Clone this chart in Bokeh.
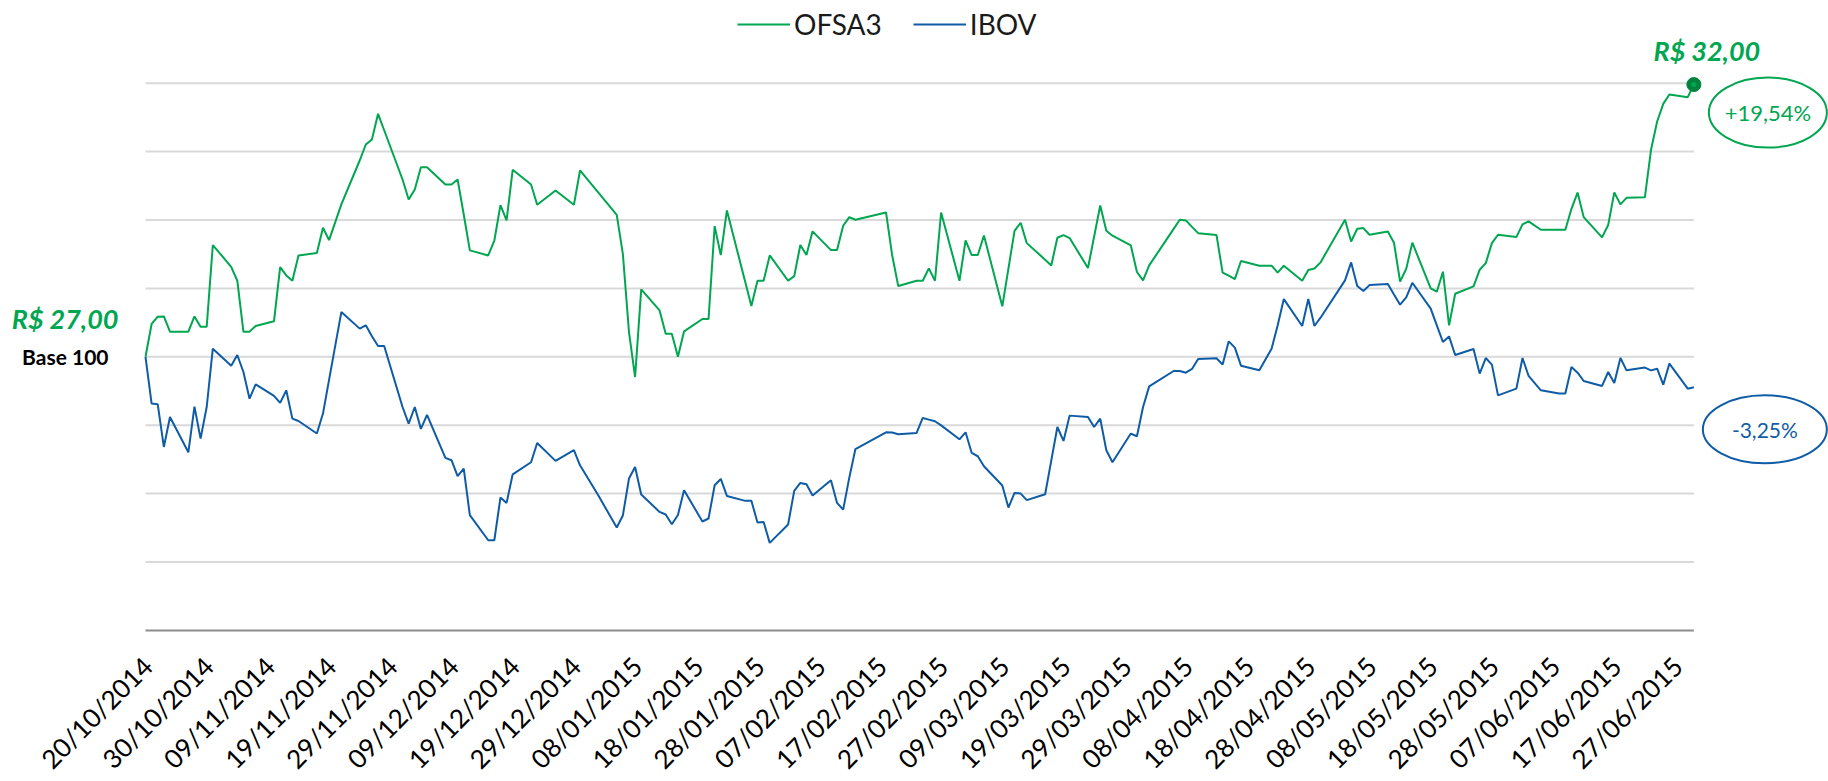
from datetime import datetime, timedelta
from math import pi

from bokeh.plotting import figure
from bokeh.models import Range1d, FixedTicker, Legend, LegendItem
from bokeh.core.properties import value
from bokeh.embed import file_html
from bokeh.resources import INLINE

# ---------------- data ----------------
dates_str = [
    "20/10/2014", "21/10/2014", "22/10/2014", "23/10/2014", "24/10/2014",
    "27/10/2014", "28/10/2014", "29/10/2014", "30/10/2014", "31/10/2014",
    "03/11/2014", "04/11/2014", "05/11/2014", "06/11/2014", "07/11/2014",
    "10/11/2014", "11/11/2014", "12/11/2014", "13/11/2014", "14/11/2014",
    "17/11/2014", "18/11/2014", "19/11/2014", "21/11/2014",
    "24/11/2014", "25/11/2014", "26/11/2014", "27/11/2014", "28/11/2014",
    "01/12/2014", "02/12/2014", "03/12/2014", "04/12/2014", "05/12/2014",
    "08/12/2014", "09/12/2014", "10/12/2014", "11/12/2014", "12/12/2014",
    "15/12/2014", "16/12/2014", "17/12/2014", "18/12/2014", "19/12/2014",
    "22/12/2014", "23/12/2014", "26/12/2014",
    "29/12/2014", "30/12/2014", "02/01/2015",
    "05/01/2015", "06/01/2015", "07/01/2015", "08/01/2015", "09/01/2015",
    "12/01/2015", "13/01/2015", "14/01/2015", "15/01/2015", "16/01/2015",
    "19/01/2015", "20/01/2015", "21/01/2015", "22/01/2015", "23/01/2015",
    "26/01/2015", "27/01/2015", "28/01/2015", "29/01/2015", "30/01/2015",
    "02/02/2015", "03/02/2015", "04/02/2015", "05/02/2015", "06/02/2015",
    "09/02/2015", "10/02/2015", "11/02/2015", "12/02/2015", "13/02/2015",
    "18/02/2015", "19/02/2015", "20/02/2015",
    "23/02/2015", "24/02/2015", "25/02/2015", "26/02/2015", "27/02/2015",
    "02/03/2015", "03/03/2015", "04/03/2015", "05/03/2015", "06/03/2015",
    "09/03/2015", "10/03/2015", "11/03/2015", "12/03/2015", "13/03/2015",
    "16/03/2015", "17/03/2015", "18/03/2015", "19/03/2015", "20/03/2015",
    "23/03/2015", "24/03/2015", "25/03/2015", "26/03/2015", "27/03/2015",
    "30/03/2015", "31/03/2015", "01/04/2015", "02/04/2015",
    "06/04/2015", "07/04/2015", "08/04/2015", "09/04/2015", "10/04/2015",
    "13/04/2015", "14/04/2015", "15/04/2015", "16/04/2015", "17/04/2015",
    "20/04/2015", "22/04/2015", "23/04/2015", "24/04/2015",
    "27/04/2015", "28/04/2015", "29/04/2015", "30/04/2015",
    "04/05/2015", "05/05/2015", "06/05/2015", "07/05/2015", "08/05/2015",
    "11/05/2015", "12/05/2015", "13/05/2015", "14/05/2015", "15/05/2015",
    "18/05/2015", "19/05/2015", "20/05/2015", "21/05/2015", "22/05/2015",
    "25/05/2015", "26/05/2015", "27/05/2015", "28/05/2015", "29/05/2015",
    "01/06/2015", "02/06/2015", "03/06/2015", "05/06/2015",
    "08/06/2015", "09/06/2015", "10/06/2015", "11/06/2015", "12/06/2015",
    "15/06/2015", "16/06/2015", "17/06/2015", "18/06/2015", "19/06/2015",
    "22/06/2015", "23/06/2015", "24/06/2015", "25/06/2015", "26/06/2015",
    "29/06/2015", "30/06/2015",
]

ofsa3 = [
    100.0, 102.4, 102.93, 102.95, 101.84, 101.84, 102.95, 102.2, 102.2, 108.17,
    106.58, 105.56, 101.84, 101.84, 102.25, 102.6, 106.56, 105.95, 105.56, 107.41,
    107.58, 109.43, 108.53, 111.14, 114.35, 115.52, 115.89, 117.76, 116.56,
    112.96, 111.5, 112.23, 113.86, 113.86, 112.6, 112.6, 112.96, 110.4, 107.78,
    107.41, 108.5, 111.09, 109.97, 113.67, 112.6, 111.11, 112.16, 111.11, 113.62,
    112.0, 110.38, 107.53, 101.81, 98.52, 104.93, 103.39, 101.69, 101.69, 100.0, 101.86,
    102.76, 102.76, 109.55, 107.44, 110.7, 105.46, 103.71, 105.56, 105.56, 107.41,
    105.56, 105.9, 108.17, 107.44, 109.17, 107.8, 107.8, 109.58, 110.21, 110.02,
    110.55, 107.44, 105.17, 105.56, 105.56, 106.46, 105.56, 110.55,
    105.56, 108.51, 107.44, 107.44, 108.87, 103.69, 106.45, 109.21, 109.8, 108.31,
    107.1, 106.68, 108.7, 108.9, 108.68, 106.49, 108.78, 111.06, 109.21, 108.85,
    108.14, 106.2, 105.59, 106.68,
    109.35, 110.02, 109.97, 109.5, 109.04, 108.9, 106.15, 105.93, 105.68, 107.0,
    106.66, 106.66, 106.15, 106.66, 105.56, 106.34, 106.46, 106.9,
    110.02, 108.43, 109.36, 109.41, 108.92, 109.16, 108.34, 105.49, 106.44, 108.34,
    105.0, 104.76, 106.22, 102.3, 104.61, 105.15, 106.36, 106.85, 108.31, 108.92,
    108.75, 109.68, 109.9, 109.29, 109.29, 109.29, 110.82, 112.01, 110.21,
    108.73, 109.63, 112.01, 111.14, 111.62, 111.67, 115.13, 117.2, 118.49, 119.17,
    118.98, 119.9,
]

ibov = [
    100.0, 96.58, 96.53, 93.41, 95.6, 93.02, 96.36, 94.02, 96.33, 100.59,
    99.35, 100.13, 98.89, 96.94, 97.99, 97.14, 96.63, 97.55, 95.48, 95.31,
    94.39, 95.85, 98.33, 103.27, 102.06, 102.3, 101.5, 100.79, 100.79,
    96.33, 95.12, 96.33, 94.73, 95.75, 92.61, 92.44, 91.27, 91.83, 88.42,
    86.59, 86.59, 89.71, 89.32, 91.41, 92.29, 93.7, 92.39, 93.17, 92.07,
    89.86, 87.52, 88.4, 91.1, 91.95, 89.93, 88.66, 88.47, 87.76, 88.44, 90.25,
    87.96, 88.18, 90.61, 91.07, 89.83, 89.47, 89.47, 87.88, 87.93, 86.4,
    87.74, 90.2, 90.78, 90.68, 89.86, 90.98, 89.32, 88.83, 91.17, 93.26,
    94.48, 94.46, 94.34, 94.43, 95.53, 95.41, 95.29, 94.99,
    93.97, 94.48, 92.97, 92.73, 92.0, 90.59, 88.98, 90.05, 90.0, 89.52,
    89.95, 92.41, 94.87, 93.85, 95.7, 95.6, 94.87, 95.48, 93.17, 92.29,
    94.39, 94.19, 96.33, 97.84,
    98.96, 98.96, 98.84, 99.11, 99.84, 99.89, 99.43, 101.13, 100.67, 99.35,
    99.01, 100.59, 102.3, 104.22, 102.25, 104.22, 102.25, 102.86,
    105.59, 106.9, 105.17, 104.81, 105.24, 105.32, 104.56, 103.81, 104.34, 105.41,
    103.52, 102.3, 101.08, 101.49, 100.13, 100.57, 98.77, 99.91, 99.43, 97.18,
    97.67, 99.91, 98.6, 97.55, 97.31, 97.31, 99.25, 98.84, 98.23,
    97.87, 98.89, 98.09, 99.91, 99.01, 99.21, 99.01, 99.13, 97.96, 99.5,
    97.67, 97.77,
]

tick_labels = [
    "20/10/2014", "30/10/2014", "09/11/2014", "19/11/2014", "29/11/2014",
    "09/12/2014", "19/12/2014", "29/12/2014", "08/01/2015", "18/01/2015",
    "28/01/2015", "07/02/2015", "17/02/2015", "27/02/2015", "09/03/2015",
    "19/03/2015", "29/03/2015", "08/04/2015", "18/04/2015", "28/04/2015",
    "08/05/2015", "18/05/2015", "28/05/2015", "07/06/2015", "17/06/2015",
    "27/06/2015",
]

grid_levels = [85, 90, 95, 100, 105, 110, 115, 120]
axis_level = 80

start_label = "R$ 27,00"
base_label = "Base 100"
end_label = "R$ 32,00"
ofsa3_change = "+19,54%"
ibov_change = "-3,25%"

# ---------------- layout constants ----------------
W, H = 1828, 781
PX_PER_DAY = 6.12
PX_PER_UNIT = 13.68
X_FIRST = 145.0      # px of first date inside the figure
Y_TOP_LEVEL = 82.7   # px (from top) of the 120 level

GREEN = "#00A650"
DARK_GREEN = "#00843D"
BLUE = "#0F5CA6"
GRID = "#D9D9D9"
AXIS = "#8C8C8C"
FONT = "Lato"

dates = [datetime.strptime(s, "%d/%m/%Y") for s in dates_str]
ticks_dt = [datetime.strptime(s, "%d/%m/%Y") for s in tick_labels]

d0 = dates[0]
x_start = d0 - timedelta(days=X_FIRST / PX_PER_DAY)
x_end = d0 + timedelta(days=(W - X_FIRST) / PX_PER_DAY)
top_level = max(grid_levels)
y_end = top_level + Y_TOP_LEVEL / PX_PER_UNIT
y_bottom_px = Y_TOP_LEVEL + (top_level - axis_level) * PX_PER_UNIT
y_start = axis_level - (H - y_bottom_px) / PX_PER_UNIT

p = figure(width=W, height=H, x_axis_type="datetime",
           x_range=Range1d(x_start, x_end), y_range=Range1d(y_start, y_end),
           output_backend="svg", toolbar_location=None,
           min_border=0, min_border_left=0, min_border_right=0,
           min_border_top=0, min_border_bottom=0)
p.outline_line_color = None
p.xgrid.visible = False
p.ygrid.visible = False
p.yaxis.visible = False
p.background_fill_color = "white"
p.border_fill_color = "white"

# gridlines and axis line, spanning the dates
n = len(grid_levels)
p.segment(x0=[dates[0]] * n, x1=[dates[-1]] * n, y0=grid_levels, y1=grid_levels,
          line_color=GRID, line_width=2)
p.segment(x0=[dates[0]], x1=[dates[-1]], y0=[axis_level], y1=[axis_level],
          line_color=AXIS, line_width=2)

# series
r_ofsa = p.line(dates, ofsa3, line_color=GREEN, line_width=2)
r_ibov = p.line(dates, ibov, line_color=BLUE, line_width=2)

# x axis with rotated date labels
label_shift = timedelta(days=2 / PX_PER_DAY)
epoch = datetime(1970, 1, 1)
tick_ms = [int(((t + label_shift) - epoch).total_seconds() * 1000) for t in ticks_dt]
ax = p.xaxis[0]
ax.fixed_location = axis_level
ax.ticker = FixedTicker(ticks=tick_ms)
ax.major_label_overrides = {ms: lab for ms, lab in zip(tick_ms, tick_labels)}
ax.axis_line_color = None
ax.major_tick_line_color = None
ax.minor_tick_line_color = None
ax.major_label_orientation = pi / 4
ax.major_label_standoff = 25
ax.major_label_text_font = FONT
ax.major_label_text_font_size = "26px"
ax.major_label_text_color = "#000000"

# start annotations
p.text(x=[dates[0]], y=[ofsa3[0]], text=[start_label], x_offset=-27, y_offset=-38,
       text_align="right", text_baseline="middle", text_font=value(FONT),
       text_font_style="bold italic", text_font_size="27px", text_color=GREEN)
p.text(x=[dates[0]], y=[ofsa3[0]], text=[base_label], x_offset=-37, y_offset=0,
       text_align="right", text_baseline="middle", text_font=value(FONT),
       text_font_style="bold", text_font_size="21px", text_color="#000000")

# end annotations
p.text(x=[dates[-1]], y=[ofsa3[-1]], text=[end_label], x_offset=13, y_offset=-34,
       text_align="center", text_baseline="middle", text_font=value(FONT),
       text_font_style="bold italic", text_font_size="27px", text_color=GREEN)
p.scatter(x=[dates[-1]], y=[ofsa3[-1]], size=14, fill_color=DARK_GREEN,
          line_color=DARK_GREEN)
p.scatter(x=[dates[-1]], y=[ofsa3[-1]], size=5, fill_color=GREEN, line_color=None)

cx1 = dates[-1] + timedelta(days=74 / PX_PER_DAY)
cy1 = ofsa3[-1] - 28 / PX_PER_UNIT
p.ellipse(x=[cx1], y=[cy1], width=118, height=70, width_units="screen",
          height_units="screen", fill_color="white", line_color=GREEN, line_width=2)
p.text(x=[cx1], y=[cy1], text=[ofsa3_change], text_align="center",
       text_baseline="middle", text_font=value(FONT), text_font_size="22px",
       text_color=GREEN)

cx2 = dates[-1] + timedelta(days=71 / PX_PER_DAY)
cy2 = ibov[-1] - 42 / PX_PER_UNIT
p.ellipse(x=[cx2], y=[cy2], width=124, height=68, width_units="screen",
          height_units="screen", fill_color="white", line_color=BLUE, line_width=2)
p.text(x=[cx2], y=[cy2], text=[ibov_change], text_align="center",
       text_baseline="middle", text_font=value(FONT), text_font_size="21px",
       text_color=BLUE)

# legend
legend = Legend(items=[LegendItem(label="OFSA3", renderers=[r_ofsa]),
                       LegendItem(label="IBOV", renderers=[r_ibov])],
                orientation="horizontal", location=(737, H - 41),
                glyph_width=53, glyph_height=20, label_standoff=4, spacing=31,
                padding=0, margin=0, border_line_color=None,
                background_fill_alpha=0, label_text_font=FONT,
                label_text_font_size="28px", label_text_color="#1a1a1a")
p.add_layout(legend)

open("out.html", "w").write(file_html(p, INLINE))
